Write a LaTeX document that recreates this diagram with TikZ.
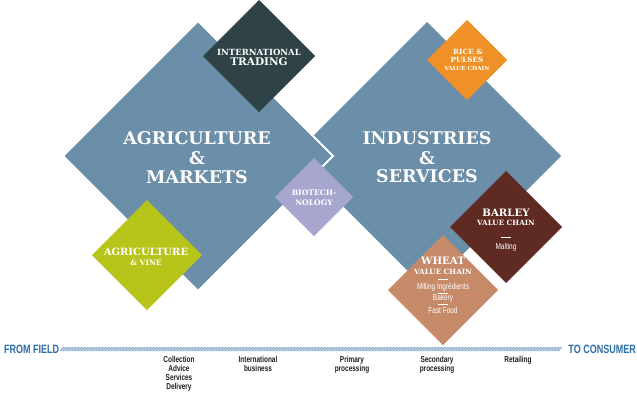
\documentclass[tikz,border=0pt]{standalone}
\usepackage{fontspec}
\setmainfont{DejaVu Serif}
\newfontfamily\slab{DejaVu Serif}
\newfontfamily\cond[FakeStretch=0.75]{Liberation Sans}
\usetikzlibrary{shapes.geometric,patterns}
\definecolor{bigblue}{HTML}{6B8FA9}
\definecolor{tradecol}{HTML}{2F4347}
\definecolor{ricecol}{HTML}{EF9127}
\definecolor{biocol}{HTML}{A6A6CF}
\definecolor{vinecol}{HTML}{B7C41A}
\definecolor{barleycol}{HTML}{5E2A22}
\definecolor{wheatcol}{HTML}{C68A69}
\definecolor{timeblue}{HTML}{2C6EA8}
\definecolor{bandblue}{HTML}{7FAAD0}
\definecolor{labelgray}{HTML}{1E1E1E}
\begin{document}
\begin{tikzpicture}[x=1pt,y=-1pt,
  dia/.style={diamond, aspect=1, inner sep=0pt, outer sep=0pt, minimum width=#1, minimum height=#1},
  big/.style={text=white, font=\slab\bfseries\fontsize{17.5}{17.5}\selectfont, inner sep=0pt},
  ttl/.style={text=white, font=\slab\bfseries\fontsize{#1}{#1}\selectfont, inner sep=0pt},
  sub/.style={text=white, font=\cond\fontsize{8.6}{8.6}\selectfont, inner sep=0pt},
  tl/.style={text=labelgray, font=\cond\bfseries\fontsize{8.6}{9}\selectfont, align=center, inner sep=0pt, anchor=north},
  ends/.style={text=timeblue, font=\cond\bfseries\fontsize{12}{12}\selectfont, inner sep=0pt},
  dashw/.style={fill=white, minimum width=10pt, minimum height=0.8pt, inner sep=0pt}]
\useasboundingbox (0,0) rectangle (637,402);
\fill[white] (0,0) rectangle (637,402);
% big diamonds
\node[dia=268, fill=bigblue] (ind) at (427,156) {};
\node[dia=270, fill=bigblue, draw=white, line width=2pt] (agr) at (198,156) {};
% small diamonds
\node[dia=112, fill=tradecol] (trade) at (259,56) {};
\node[dia=80, fill=ricecol] (rice) at (467,60) {};
\node[dia=78, fill=biocol] (bio) at (314,197) {};
\node[dia=110, fill=vinecol] (vine) at (147,255) {};
\node[dia=112, fill=barleycol] (barley) at (506,227) {};
\node[dia=110, fill=wheatcol] (wheat) at (443,290) {};
% big texts
\node[big] (agr1) at (197,138) {AGRICULTURE};
\node[big] (agr2) at (197,158) {\&};
\node[big] (agr3) at (197,177) {MARKETS};
\node[big] (ind1) at (427,138) {INDUSTRIES};
\node[big] (ind2) at (427,158) {\&};
\node[big] (ind3) at (427,176) {SERVICES};
% small titles
\node[ttl=8.5] (trade1) at (259,52) {INTERNATIONAL};
\node[ttl=10.5] (trade2) at (259,62) {TRADING};
\node[ttl=7.2] (rice1) at (468,52) {RICE \&};
\node[ttl=7.2] (rice2) at (467,60) {PULSES};
\node[ttl=5.6] (rice3) at (467,68) {VALUE CHAIN};
\node[ttl=7.6] (bio1) at (314,193) {BIOTECH-};
\node[ttl=7.6] (bio2) at (314,203) {NOLOGY};
\node[ttl=10] (vine1) at (146,252) {AGRICULTURE};
\node[ttl=7.5] (vine2) at (146,263) {\& VINE};
\node[ttl=10.2] (bar1) at (506,213) {BARLEY};
\node[ttl=7.2] (bar2) at (506,223) {VALUE CHAIN};
\node[dashw] (bard) at (506,237) {};
\node[sub] (bar3) at (506,247) {Malting};
\node[ttl=10.2] (wh1) at (443,261) {WHEAT};
\node[ttl=7.2] (wh2) at (443,272) {VALUE CHAIN};
\node[dashw] (whd1) at (443,279) {};
\node[sub] (wh3) at (443,287) {Milling Ingrédients};
\node[dashw] (whd2) at (443,293) {};
\node[sub] (wh4) at (443,298) {Bakery};
\node[dashw] (whd3) at (443,304) {};
\node[sub] (wh5) at (443,310) {Fast Food};
% timeline
\fill[bandblue!45] (60,351) -- (62.5,347) -- (562,347) -- (559.5,351) -- cycle;
\fill[pattern=north east lines, pattern color=bandblue!90!black] (60,351) -- (62.5,347) -- (562,347) -- (559.5,351) -- cycle;
\node[ends, anchor=west] (from) at (4,349) {FROM FIELD};
\node[ends, anchor=east] (to) at (636,349) {TO CONSUMER};
\node[tl] (l1) at (179,356) {Collection\\Advice\\Services\\Delivery};
\node[tl] (l2) at (258,356) {International\\business};
\node[tl] (l3) at (352,356) {Primary\\processing};
\node[tl] (l4) at (437,356) {Secondary\\processing};
\node[tl] (l5) at (518,356) {Retailing};
\end{tikzpicture}
\end{document}
